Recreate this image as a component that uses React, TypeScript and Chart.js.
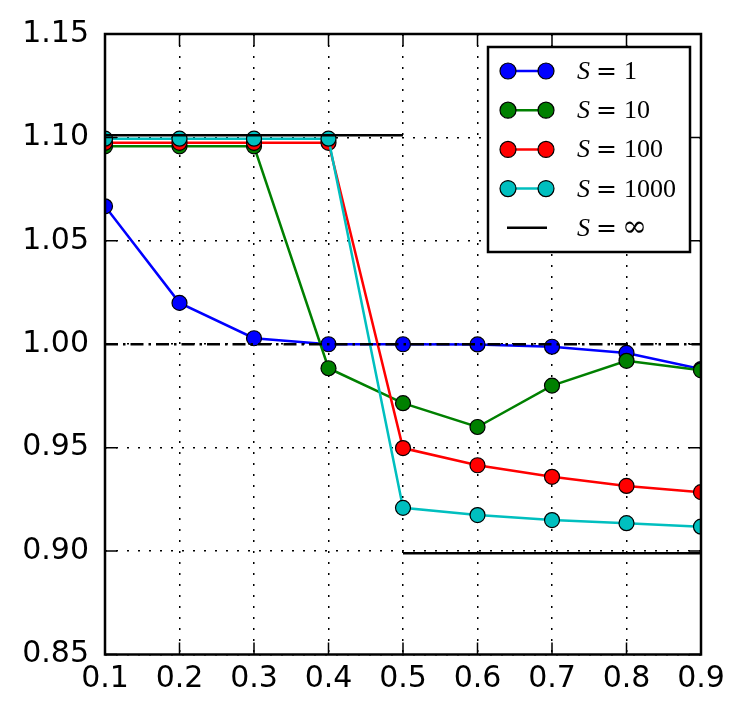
import React, { useEffect, useRef } from "react";
import { Chart, registerables } from "chart.js";

Chart.register(...registerables);

const xValues = [0.1, 0.2, 0.3, 0.4, 0.5, 0.6, 0.7, 0.8, 0.9];
const s1 = [1.0667, 1.02, 1.0029, 1.0, 1.0, 0.9999, 0.9988, 0.9958, 0.988];
const s10 = [1.0957, 1.0957, 1.0957, 0.9884, 0.9715, 0.96, 0.98, 0.992, 0.9874];
const s100 = [1.0974, 1.0974, 1.0974, 1.0974, 0.9498, 0.9415, 0.9359, 0.9315, 0.9285];
const s1000 = [1.0994, 1.0994, 1.0994, 1.0994, 0.9209, 0.9174, 0.915, 0.9135, 0.9118];
const infX = [0.1, 0.5, 0.5, 0.5, 0.9];
const infY = [1.101, 1.101, null, 0.899, 0.899];
const refX = [0.1, 0.9];
const refY = [1.0, 1.0];
const xTicks = [0.1, 0.2, 0.3, 0.4, 0.5, 0.6, 0.7, 0.8, 0.9];
const yTicks = [0.85, 0.9, 0.95, 1.0, 1.05, 1.1, 1.15];
const seriesLabels = ["1", "10", "100", "1000", "∞"];

const pts = (xs: number[], ys: (number | null)[]) => xs.map((x, i) => ({ x, y: ys[i] }));

const markerSeries = (label: string, ys: number[], color: string, order: number) => ({
  label,
  data: pts(xValues, ys),
  borderColor: color,
  backgroundColor: color,
  borderWidth: 2.5,
  pointRadius: 7.5,
  pointBackgroundColor: color,
  pointBorderColor: "#000",
  pointBorderWidth: 1.2,
  order,
  clip: 0,
});

// box around the axes + inward ticks on all four sides
const framePlugin = {
  id: "frame",
  afterDatasetsDraw(chart: any) {
    const { ctx, chartArea: a, scales } = chart;
    ctx.save();
    ctx.strokeStyle = "#000";
    ctx.lineWidth = 1.5;
    ctx.beginPath();
    xTicks.forEach((v) => {
      const px = scales.x.getPixelForValue(v);
      ctx.moveTo(px, a.bottom);
      ctx.lineTo(px, a.bottom - 12);
      ctx.moveTo(px, a.top);
      ctx.lineTo(px, a.top + 12);
    });
    yTicks.forEach((v) => {
      const py = scales.y.getPixelForValue(v);
      ctx.moveTo(a.left, py);
      ctx.lineTo(a.left + 12, py);
      ctx.moveTo(a.right, py);
      ctx.lineTo(a.right - 12, py);
    });
    ctx.stroke();
    ctx.lineWidth = 2.5;
    ctx.strokeRect(a.left, a.top, a.right - a.left, a.bottom - a.top);
    ctx.restore();
  },
};

const legendPlugin = {
  id: "mathLegend",
  afterDraw(chart: any) {
    const ctx = chart.ctx;
    const box = { x: 488, y: 47, w: 202, h: 205 };
    ctx.save();
    ctx.fillStyle = "#fff";
    ctx.fillRect(box.x, box.y, box.w, box.h);
    ctx.strokeStyle = "#000";
    ctx.lineWidth = 2.5;
    ctx.strokeRect(box.x, box.y, box.w, box.h);
    const ds = chart.data.datasets.filter((d: any) => d.label);
    ds.forEach((d: any, i: number) => {
      const cy = 71 + i * 39.2;
      ctx.strokeStyle = d.borderColor;
      ctx.lineWidth = 2.5;
      ctx.beginPath();
      ctx.moveTo(507, cy);
      ctx.lineTo(547, cy);
      ctx.stroke();
      if (d.pointRadius) {
        [508, 546].forEach((cx) => {
          ctx.beginPath();
          ctx.arc(cx, cy, 8, 0, Math.PI * 2);
          ctx.fillStyle = d.borderColor;
          ctx.fill();
          ctx.lineWidth = 1.2;
          ctx.strokeStyle = "#000";
          ctx.stroke();
        });
      }
      ctx.fillStyle = "#000";
      ctx.textBaseline = "alphabetic";
      ctx.textAlign = "left";
      ctx.font = "italic 26px 'Liberation Serif'";
      ctx.fillText("S", 577, cy + 8);
      ctx.font = "25px 'DejaVu Serif'";
      ctx.fillText("=", 596, cy + 8);
      if (d.label === "∞") {
        ctx.font = "30px 'DejaVu Serif'";
        ctx.fillText(d.label, 622, cy + 8);
      } else {
        ctx.font = "26px 'Liberation Serif'";
        ctx.fillText(d.label, 624, cy + 8);
      }
    });
    ctx.restore();
  },
};

export default function App() {
  const canvasRef = useRef<HTMLCanvasElement>(null);

  useEffect(() => {
    if (!canvasRef.current) return;
    document.body.style.margin = "0";

    const chart = new Chart(canvasRef.current, {
      type: "line",
      data: {
        datasets: [
          markerSeries(seriesLabels[0], s1, "#0000ff", 6),
          markerSeries(seriesLabels[1], s10, "#008000", 5),
          markerSeries(seriesLabels[2], s100, "#ff0000", 4),
          markerSeries(seriesLabels[3], s1000, "#00bfbf", 3),
          {
            label: seriesLabels[4],
            data: pts(infX, infY),
            borderColor: "#000",
            borderWidth: 2.5,
            pointRadius: 0,
            spanGaps: false,
            order: 2,
            clip: 0,
          },
          {
            label: "",
            data: pts(refX, refY),
            borderColor: "#000",
            borderWidth: 2.5,
            borderDash: [13, 5, 2.5, 5],
            pointRadius: 0,
            order: 1,
            clip: 0,
          },
        ] as any,
      },
      options: {
        animation: false,
        responsive: false,
        layout: { padding: { left: 0, top: 33.5, right: 46, bottom: 0 } },
        plugins: {
          legend: { display: false },
          tooltip: { enabled: false },
        },
        scales: {
          x: {
            type: "linear",
            min: 0.1,
            max: 0.9,
            afterFit: (s: any) => {
              s.height = 61.5;
            },
            afterBuildTicks: (s: any) => {
              s.ticks = xTicks.map((v) => ({ value: v }));
            },
            ticks: {
              padding: 7,
              color: "#000",
              font: { family: "'DejaVu Sans'", size: 30 },
              callback: (v: any) => Number(v).toFixed(1),
            },
            grid: { color: "#000", lineWidth: 1.5, drawTicks: false },
            border: { display: false, dash: [2, 9] },
          },
          y: {
            type: "linear",
            min: 0.85,
            max: 1.15,
            afterFit: (s: any) => {
              s.width = 105;
            },
            afterBuildTicks: (s: any) => {
              s.ticks = yTicks.map((v) => ({ value: v }));
            },
            ticks: {
              padding: 16,
              color: "#000",
              font: { family: "'DejaVu Sans'", size: 30 },
              callback: (v: any) => Number(v).toFixed(2),
            },
            grid: { color: "#000", lineWidth: 1.5, drawTicks: false },
            border: { display: false, dash: [2, 9] },
          },
        },
      },
      plugins: [framePlugin, legendPlugin],
    });

    return () => chart.destroy();
  }, []);

  return (
    <div style={{ width: 747, height: 716, background: "#fff" }}>
      <canvas ref={canvasRef} width={747} height={716} />
    </div>
  );
}
